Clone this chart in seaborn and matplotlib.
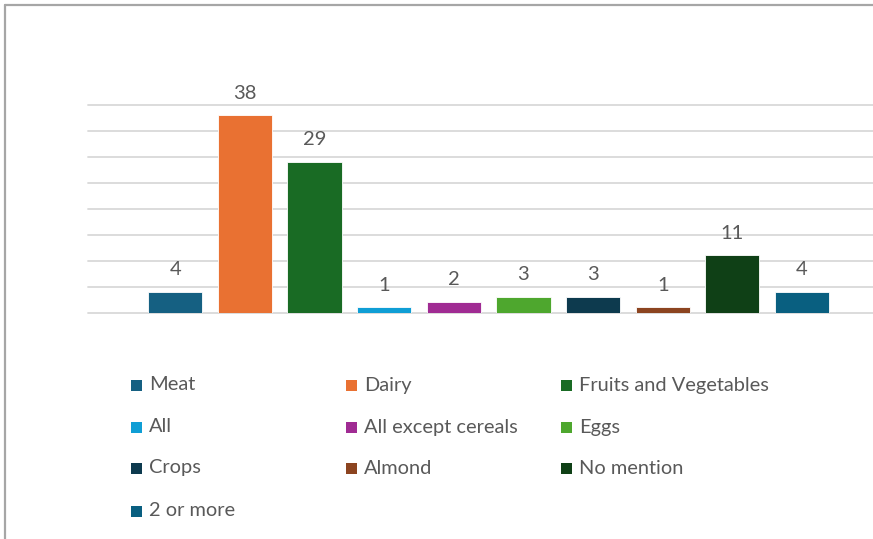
import matplotlib
matplotlib.use("Agg")
import matplotlib.pyplot as plt
from matplotlib.patches import Rectangle
from matplotlib.lines import Line2D
import seaborn as sns
import pandas as pd

categories = ["Meat", "Dairy", "Fruits and Vegetables", "All", "All except cereals",
              "Eggs", "Crops", "Almond", "No mention", "2 or more"]
counts = [4, 38, 29, 1, 2, 3, 3, 1, 11, 4]
colors = ["#156082", "#E97132", "#196B24", "#0F9ED5", "#A02B93",
          "#4EA72E", "#0D3A4E", "#8C4420", "#0F4016", "#095F80"]

W, H = 873, 539
DPI = 100
sns.set_theme(style="white")
plt.rcParams["font.family"] = ["Lato", "DejaVu Sans"]

fig = plt.figure(figsize=(W / DPI, H / DPI), dpi=DPI)

def fx(px):
    return px / W

def fy(py):
    return 1 - py / H

# plot area: baseline at y=312.5, value 40 at y=105
ax = fig.add_axes([fx(88), fy(312.5), fx(873) - fx(88), fy(105) - fy(312.5)])

df = pd.DataFrame({"category": categories, "count": counts})
sns.barplot(data=df, x="category", y="count", hue="category", order=categories,
            hue_order=categories, palette=colors, legend=False, width=0.78,
            dodge=False, saturation=1, ax=ax, edgecolor="white", linewidth=0.6)

ax.set_ylim(0, 40)
ax.set_xlim(-1.252, 10.02)
ax.set_yticks(range(0, 41, 5))
ax.yaxis.grid(True, color="#d9d9d9", linewidth=1.3)
ax.set_axisbelow(True)
for s in ax.spines.values():
    s.set_visible(False)
ax.set_xticks([])
ax.set_yticklabels([])
ax.tick_params(left=False, bottom=False)
ax.set_xlabel("")
ax.set_ylabel("")
for gl in ax.get_ygridlines():
    gl.set_clip_on(False)

# value labels above bars
for i, v in enumerate(counts):
    ax.annotate(str(v), xy=(i, v), xytext=(0, 12), textcoords="offset points",
                ha="center", va="baseline", fontsize=14.5, color="#595959")

# legend laid out in three equal-width columns
col_x = [131, 346, 561]
row_y = [385, 427, 468, 511]
sq = 11
for k, (name, c) in enumerate(zip(categories, colors)):
    r, col = divmod(k, 3)
    x0 = col_x[col]
    yc = row_y[r]
    fig.patches.append(Rectangle((fx(x0), fy(yc + sq / 2)), sq / W, sq / H,
                                 transform=fig.transFigure, facecolor=c,
                                 edgecolor="none"))
    fig.text(fx(x0 + 18), fy(yc), name, ha="left", va="center",
             fontsize=14.4, color="#595959")

# chart frame (left and top edges)
fig.add_artist(Line2D([fx(5), fx(5)], [fy(5), 0], transform=fig.transFigure,
                      color="#a6a6a6", linewidth=1.6))
fig.add_artist(Line2D([fx(5), 1], [fy(5), fy(5)], transform=fig.transFigure,
                      color="#a6a6a6", linewidth=1.6))

fig.savefig("out.png", dpi=DPI, facecolor="white")
